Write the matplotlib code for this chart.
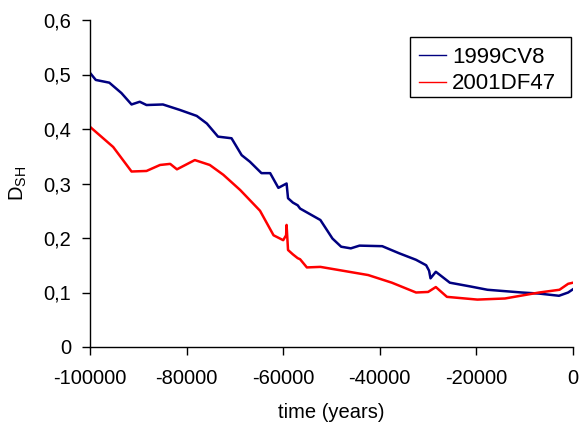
import matplotlib
matplotlib.use("Agg")
import matplotlib.pyplot as plt
from matplotlib.patches import Rectangle
from matplotlib.ticker import FuncFormatter

plt.rcParams['font.family'] = ['Liberation Sans', 'DejaVu Sans']
plt.rcParams['mathtext.fontset'] = 'custom'
plt.rcParams['mathtext.rm'] = 'Liberation Sans'

# 1999CV8 (blue)
t_cv8 = [-100000, -98800, -96000, -93500, -91400, -89700, -88300, -84900, -81400,
         -77900, -75800, -73500, -70700, -68600, -66900, -64500, -62700, -61000,
         -59300, -59000, -58000, -57000, -56500, -52300, -49800, -48000, -46000,
         -44200, -39500, -36000, -32500, -30400, -29800, -29500, -28400, -25500,
         -21200, -17700, -10600, -7000, -2900, -1000, 0]
d_cv8 = [0.503, 0.49, 0.485, 0.466, 0.445, 0.45, 0.444, 0.445, 0.435,
         0.424, 0.41, 0.386, 0.383, 0.352, 0.34, 0.319, 0.319, 0.292,
         0.30, 0.273, 0.265, 0.26, 0.254, 0.233, 0.199, 0.184, 0.181,
         0.186, 0.185, 0.172, 0.16, 0.15, 0.14, 0.126, 0.138, 0.118,
         0.111, 0.105, 0.10, 0.098, 0.094, 0.1, 0.106]

# 2001DF47 (red)
t_df47 = [-100000, -95200, -91400, -88300, -85500, -83400, -82000, -78300, -75200,
          -72400, -68900, -64800, -62000, -60000, -59400, -59300, -59000, -58000,
          -57000, -56500, -55100, -52300, -42400, -37500, -32500, -30000, -28400,
          -26100, -19800, -14100, -7000, -2800, -1000, 0]
d_df47 = [0.404, 0.367, 0.322, 0.323, 0.334, 0.336, 0.326, 0.343, 0.334,
          0.316, 0.288, 0.25, 0.205, 0.196, 0.205, 0.224, 0.178, 0.17,
          0.163, 0.161, 0.146, 0.147, 0.132, 0.118, 0.10, 0.101, 0.11,
          0.092, 0.087, 0.089, 0.10, 0.105, 0.116, 0.118]

x_ticks = [-100000, -80000, -60000, -40000, -20000, 0]
y_ticks = [0, 0.1, 0.2, 0.3, 0.4, 0.5, 0.6]

FS = 14.5

fig = plt.figure(figsize=(5.79, 4.25), dpi=100)
ax = fig.add_axes([90/579, 78/425, 483/579, 327/425])

ax.plot(t_cv8, d_cv8, color='#000080', lw=1.8, label='1999CV8')
ax.plot(t_df47, d_df47, color='#FF0000', lw=1.8, label='2001DF47')

ax.set_xlim(-100000, 0)
ax.set_ylim(0, 0.6)
ax.set_xticks(x_ticks)
ax.set_yticks(y_ticks)
ax.xaxis.set_major_formatter(FuncFormatter(lambda v, p: f"{int(round(v))}"))
ax.yaxis.set_major_formatter(FuncFormatter(lambda v, p: ("0" if abs(v) < 1e-9 else f"{v:.1f}".replace('.', ','))))
ax.tick_params(axis='both', direction='out', length=5.5, width=1, labelsize=FS)
ax.tick_params(axis='x', pad=10)
ax.tick_params(axis='y', pad=8)
for s in ['top', 'right']:
    ax.spines[s].set_visible(False)
for s in ['left', 'bottom']:
    ax.spines[s].set_linewidth(1)

ax.set_xlabel('time (years)', fontsize=FS, labelpad=11)
ax.set_ylabel(r'D$_{\mathregular{SH}}$', fontsize=FS, labelpad=10)

# legend box (frame drawn separately for Excel-like padding)
box = Rectangle((0.6625, 0.7645), 0.9959 - 0.6625, 0.948 - 0.7645,
                transform=ax.transAxes, facecolor='white', edgecolor='black',
                lw=1, zorder=4, clip_on=False)
ax.add_patch(box)
leg = ax.legend(loc='upper left', bbox_to_anchor=(0.681, 0.918), fontsize=16,
                frameon=False, handlelength=1.2, handletextpad=0.3,
                borderpad=0, labelspacing=0.25, borderaxespad=0)
leg.set_zorder(5)
for l in leg.get_lines():
    l.set_linewidth(1)

fig.savefig('out.png', dpi=100)
